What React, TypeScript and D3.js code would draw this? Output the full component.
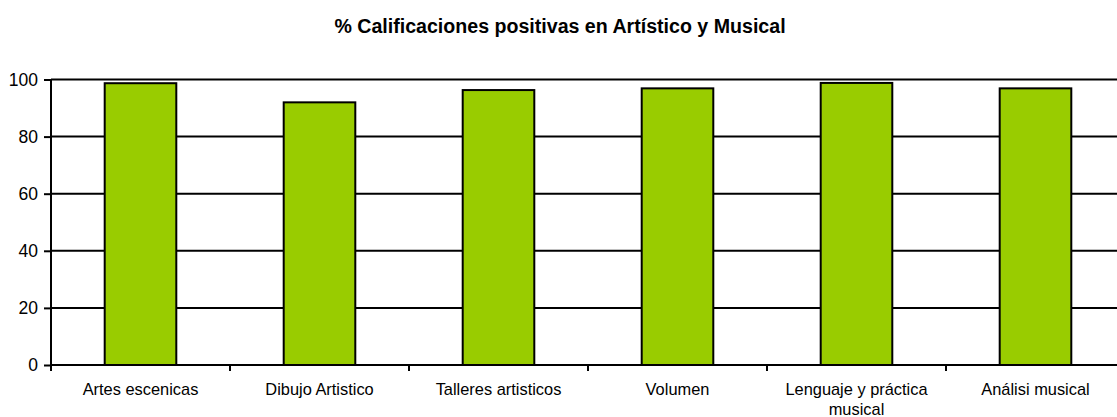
import React, { useEffect, useRef } from 'react';
import * as d3 from 'd3';

const title = '% Calificaciones positivas en Artístico y Musical';
const categories = [
  'Artes escenicas',
  'Dibujo Artistico',
  'Talleres artisticos',
  'Volumen',
  'Lenguaje y práctica musical',
  'Análisi musical',
];
const values = [98.7, 92.0, 96.3, 96.9, 98.8, 96.9];
const yTicks = [0, 20, 40, 60, 80, 100];

const width = 1117;
const height = 417;

// wrap long category labels onto several lines
function wrap(sel: d3.Selection<SVGTextElement, string, SVGGElement, unknown>, maxW: number) {
  sel.each(function () {
    const text = d3.select(this);
    const words = text.text().split(/\s+/);
    const x = text.attr('x');
    const y = text.attr('y');
    text.text(null);
    let line: string[] = [];
    let lineNo = 0;
    let tspan = text.append('tspan').attr('x', x).attr('y', y);
    for (const w of words) {
      line.push(w);
      tspan.text(line.join(' '));
      if ((tspan.node() as SVGTSpanElement).getComputedTextLength() > maxW && line.length > 1) {
        line.pop();
        tspan.text(line.join(' '));
        line = [w];
        lineNo++;
        tspan = text.append('tspan').attr('x', x).attr('y', +y! + lineNo * 20).text(w);
      }
    }
  });
}

const App: React.FC = () => {
  const svgRef = useRef<SVGSVGElement>(null);

  useEffect(() => {
    if (!svgRef.current) return;
    const svg = d3.select(svgRef.current);
    svg.selectAll('*').remove();

    const left = 51;
    const band = 179;
    const x = d3.scaleBand<string>()
      .domain(categories)
      .range([left, left + band * categories.length])
      .padding(0);
    const y = d3.scaleLinear().domain([0, 100]).range([365, 79.5]);
    const right = left + band * categories.length;

    const font = 'Arial, "Liberation Sans", sans-serif';

    svg.append('text')
      .attr('x', 560)
      .attr('y', 33)
      .attr('text-anchor', 'middle')
      .attr('font-family', font)
      .attr('font-size', 19.6)
      .attr('font-weight', 'bold')
      .attr('fill', '#000')
      .text(title);

    // gridlines
    svg.append('g')
      .selectAll('line')
      .data(yTicks.filter(t => t > 0))
      .enter().append('line')
      .attr('x1', left).attr('x2', right)
      .attr('y1', d => y(d)).attr('y2', d => y(d))
      .attr('stroke', '#000').attr('stroke-width', 2);

    // bars
    const bw = x.bandwidth();
    svg.append('g')
      .selectAll('rect')
      .data(values)
      .enter().append('rect')
      .attr('x', (_, i) => (x(categories[i]) || 0) + bw * 0.3)
      .attr('y', d => y(d))
      .attr('width', bw * 0.4)
      .attr('height', d => y(0) - y(d))
      .attr('fill', '#99cc00')
      .attr('stroke', '#000')
      .attr('stroke-width', 2);

    // y axis
    const yAxis = svg.append('g')
      .attr('transform', `translate(${left},0)`)
      .call(d3.axisLeft(y).tickValues(yTicks).tickSize(7).tickPadding(6).tickFormat(d3.format('d')));
    yAxis.select('.domain').attr('stroke-width', 2).attr('d', `M0,${y(0)}V${y(100)}`);
    yAxis.selectAll('.tick line').attr('stroke-width', 2);
    yAxis.selectAll('.tick text')
      .attr('font-family', font)
      .attr('font-size', 17.5)
      .attr('fill', '#000');

    // x axis
    const xAxis = svg.append('g')
      .attr('transform', `translate(0,${y(0)})`);
    xAxis.append('line')
      .attr('x1', left).attr('x2', right)
      .attr('stroke', '#000').attr('stroke-width', 2);
    xAxis.selectAll('line.tick')
      .data(d3.range(categories.length + 1))
      .enter().append('line')
      .attr('class', 'tick')
      .attr('x1', i => left + i * band).attr('x2', i => left + i * band)
      .attr('y1', 0).attr('y2', 6)
      .attr('stroke', '#000').attr('stroke-width', 2);

    const labels = xAxis.selectAll<SVGTextElement, string>('text')
      .data(categories)
      .enter().append('text')
      .attr('x', d => (x(d) || 0) + bw / 2)
      .attr('y', 30)
      .attr('text-anchor', 'middle')
      .attr('font-family', font)
      .attr('font-size', 16.4)
      .attr('fill', '#000')
      .text(d => d);
    wrap(labels as any, bw * 0.95);
  }, []);

  return (
    <svg
      ref={svgRef}
      width={width}
      height={height}
      style={{ position: 'absolute', left: 0, top: 0, background: '#fff' }}
    />
  );
};

export default App;
